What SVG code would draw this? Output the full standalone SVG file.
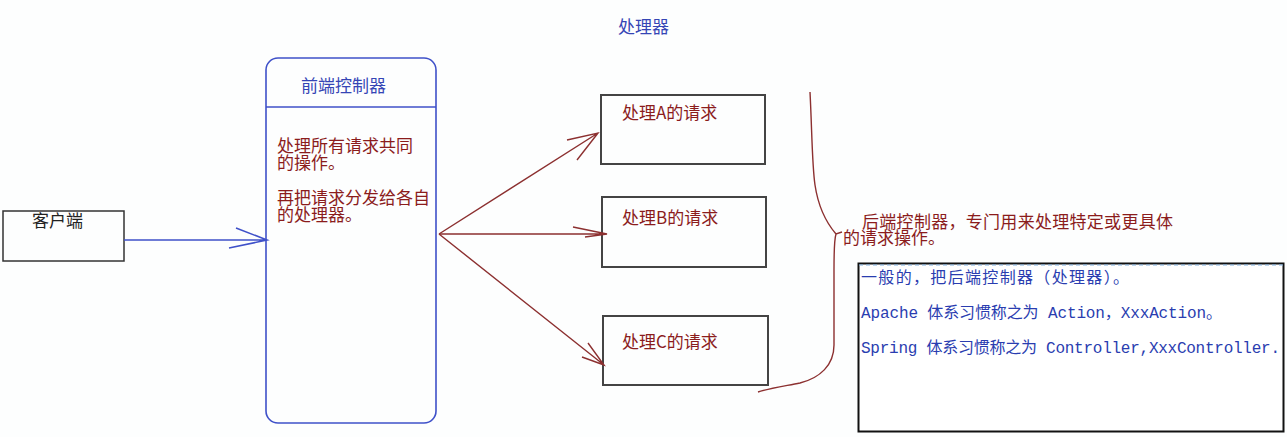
<svg xmlns="http://www.w3.org/2000/svg" width="1287" height="437" viewBox="0 0 1287 437">
<style>
.cn{font-family:"Noto Sans CJK SC","Noto Sans",sans-serif;font-size:17px}
.red{fill:#8b1c1c}
.blue{fill:#3545b5}
.mono{font-family:"Liberation Mono","Noto Sans CJK SC",monospace;font-size:16px;fill:#2a3db0}
.box{fill:none;stroke:#444;stroke-width:2}
.rl{fill:none;stroke:#8c3030;stroke-width:1.4}
.bl{fill:none;stroke:#3f51c9;stroke-width:1.6}
</style>
<rect width="1287" height="437" fill="#fdfefe"/>
<g id="title"><text class="cn blue" x="618" y="33">处理器</text></g>
<g id="client">
<rect x="3" y="211" width="121" height="50" fill="none" stroke="#333" stroke-width="1.5"/>
<text class="cn" x="32" y="227" fill="#222">客户端</text>
</g>
<g id="front">
<rect x="266" y="58" width="170" height="365" rx="12" ry="12" class="bl"/>
<line x1="266" y1="107" x2="436" y2="107" class="bl"/>
<text class="cn blue" x="301" y="92">前端控制器</text>
<text class="cn red" x="277" y="152">处理所有请求共同</text>
<text class="cn red" x="277" y="169">的操作。</text>
<text class="cn red" x="277" y="204">再把请求分发给各自</text>
<text class="cn red" x="277" y="221">的处理器。</text>
</g>
<g id="handlerA">
<rect x="601" y="95" width="164" height="69" class="box"/>
<text class="cn red" x="622" y="119">处理A的请求</text>
</g>
<g id="handlerB">
<rect x="602" y="197" width="164" height="70" class="box"/>
<text class="cn red" x="622" y="224">处理B的请求</text>
</g>
<g id="handlerC">
<rect x="603" y="316" width="165" height="69" class="box"/>
<text class="cn red" x="622" y="348">处理C的请求</text>
</g>
<g id="backnote">
<text class="cn red" x="862" y="228" textLength="311">后端控制器，专门用来处理特定或更具体</text>
<text class="cn red" x="843" y="244">的请求操作。</text>
</g>
<g id="infobox">
<rect x="858.5" y="263.5" width="425" height="168" fill="#fff" stroke="#111" stroke-width="2"/>
<line x1="859" y1="265" x2="1283" y2="265" stroke="#7fb0e0" stroke-width="1.2" stroke-dasharray="4,3"/>
<text class="mono" x="861" y="283" textLength="268">一般的，把后端控制器（处理器）。</text>
<text class="mono" x="861" y="318" textLength="361">Apache 体系习惯称之为 Action，XxxAction。</text>
<text class="mono" x="861" y="353" textLength="419">Spring 体系习惯称之为 Controller,XxxController.</text>
</g>
<g id="connectors">
<path class="bl" d="M124,240 L267,240 M236,228 L267,240 L229,248"/>
<path class="rl" d="M439,234 L598,133 M567,140 L598,133 L577,160"/>
<path class="rl" d="M439,234 L607,234 M573,227 L607,234 L585,237"/>
<path class="rl" d="M439,234 L604,365 M588,343 L604,365 L582,357"/>
<path class="rl" d="M810,92 C812,130 812,165 815,185 C818,205 824,220 836,234 L842,232 M836,234 C834,240 834,250 834,270 L834,345 C834,365 820,378 800,383 C785,386 770,388 758,392"/>
</g>
</svg>
